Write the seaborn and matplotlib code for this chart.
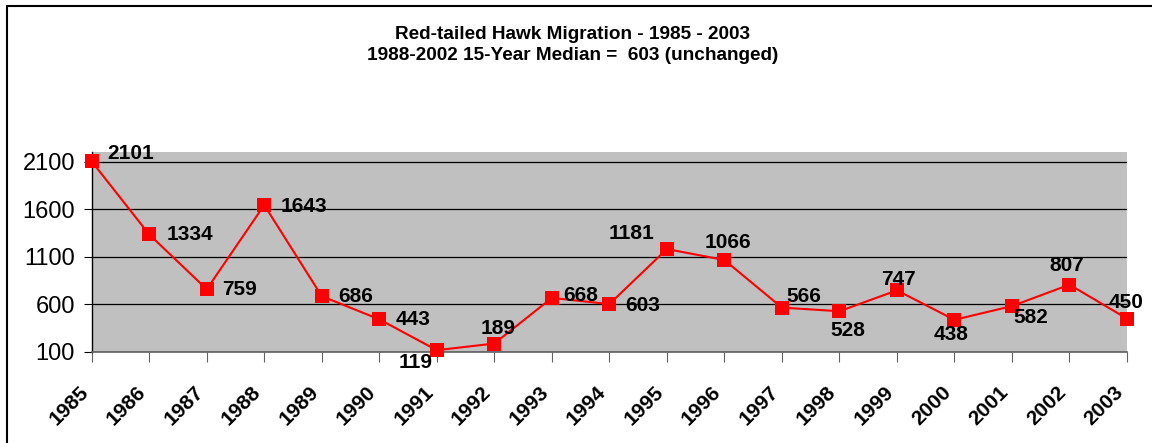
import matplotlib
matplotlib.use("Agg")
import matplotlib.pyplot as plt
from matplotlib.lines import Line2D
from matplotlib.transforms import ScaledTranslation
import seaborn as sns
import pandas as pd

# data
years = [1985, 1986, 1987, 1988, 1989, 1990, 1991, 1992, 1993, 1994,
         1995, 1996, 1997, 1998, 1999, 2000, 2001, 2002, 2003]
hawks = [2101, 1334, 759, 1643, 686, 443, 119, 189, 668, 603,
         1181, 1066, 566, 528, 747, 438, 582, 807, 450]
y_ticks = [100, 600, 1100, 1600, 2100]
title = "Red-tailed Hawk Migration - 1985 - 2003\n1988-2002 15-Year Median =  603 (unchanged)"

# label placement (pixels offset from point, horizontal alignment)
label_pos = [("left", 16, 8), ("left", 17, 0), ("left", 15, 0), ("left", 16, -1),
             ("left", 16, 0), ("left", 16, 0), ("right", -4, -12), ("center", 4, 15),
             ("left", 11, 2), ("left", 16, -1), ("right", -12, 16), ("center", 4, 18),
             ("left", 5, 11), ("center", 8, -19), ("center", 2, 11), ("center", -3, -15),
             ("left", 1, -11), ("center", -3, 19), ("center", -1, 16)]

df = pd.DataFrame({"Year": years, "Hawks": hawks})

sns.set_style("white")
plt.rcParams["font.family"] = ["Liberation Sans", "DejaVu Sans"]
plt.rcParams["text.color"] = "black"
plt.rcParams["xtick.color"] = "black"
plt.rcParams["ytick.color"] = "black"

fig = plt.figure(figsize=(11.52, 4.43), dpi=100)
ax = fig.add_axes([91.7 / 1152, 1 - 352 / 443, (1127 - 91.7) / 1152, 200 / 443])
ax.set_facecolor("#c0c0c0")

sns.lineplot(data=df, x="Year", y="Hawks", ax=ax, color="#ff0000", lw=1.5,
             marker="s", markersize=9.5, markeredgewidth=0, clip_on=False, zorder=3)

ax.set_xlim(1985, 2003)
ax.set_ylim(100, 2200)
ax.set_xticks(years)
ax.set_yticks(y_ticks)
ax.set_xticklabels([str(y) for y in years], rotation=45, ha="right",
                   rotation_mode="anchor", fontsize=15, fontweight="bold")
ax.set_yticklabels([str(t) for t in y_ticks], fontsize=17)
ax.tick_params(axis="x", length=7, color="#606060", pad=15, bottom=True)
ax.tick_params(axis="y", length=6, color="black", pad=6, left=True)
shift = ScaledTranslation(-0.13, 0, fig.dpi_scale_trans)
for lbl in ax.get_xticklabels():
    lbl.set_transform(lbl.get_transform() + shift)
ax.set_xlabel("")
ax.set_ylabel("")
ax.yaxis.grid(True, color="black", lw=0.9)
ax.set_axisbelow(True)

for s in ["top", "right"]:
    ax.spines[s].set_visible(False)
ax.spines["left"].set_color("black")
ax.spines["left"].set_linewidth(1.0)
ax.spines["bottom"].set_color("#606060")
ax.spines["bottom"].set_linewidth(1.2)

for yr, v, (ha, dx, dy) in zip(years, hawks, label_pos):
    ax.annotate(str(v), (yr, v), xytext=(dx, dy), textcoords="offset pixels",
                ha=ha, va="center", fontsize=15, fontweight="bold",
                annotation_clip=False, zorder=4)

fig.text(0.497, 1 - 45 / 443, title, ha="center", va="center",
         fontsize=13.7, fontweight="bold", linespacing=1.3)

# chart border (left and top edges visible)
fig.add_artist(Line2D([6.5 / 1152, 6.5 / 1152], [0, 1 - 6 / 443], color="black", lw=1.5))
fig.add_artist(Line2D([6.5 / 1152, 1], [1 - 6 / 443, 1 - 6 / 443], color="black", lw=1.5))

fig.savefig("out.png", dpi=100)
